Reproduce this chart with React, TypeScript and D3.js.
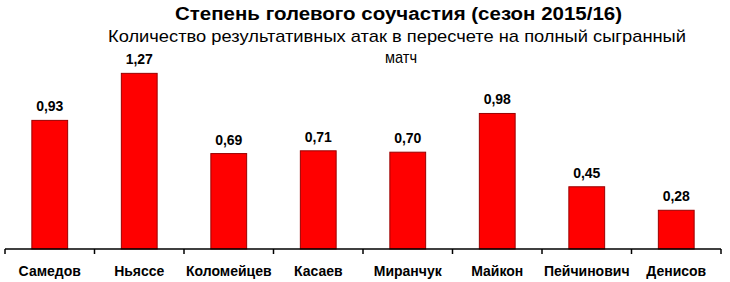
import React from "react";
import * as d3 from "d3";

const categories = ["Самедов", "Ньяссе", "Коломейцев", "Касаев", "Миранчук", "Майкон", "Пейчинович", "Денисов"];
const values = [0.93, 1.27, 0.69, 0.71, 0.70, 0.98, 0.45, 0.28];
const title = "Степень голевого соучастия (сезон 2015/16)";
const subtitle1 = "Количество результативных атак в пересчете на полный сыгранный";
const subtitle2 = "матч";

const W = 730, H = 282;
const font = "'Liberation Sans', Arial, sans-serif";

export default function App() {
  const x = d3.scaleBand<string>().domain(categories).range([5, 721]).paddingInner(0.6).paddingOuter(0.3);
  const baseline = 249;
  const y = d3.scaleLinear().domain([0, 1]).range([baseline, baseline - 138.3]);
  const ticks = d3.range(categories.length + 1).map((i) => 5 + i * (716 / categories.length));
  const fmt = (v: number) => v.toFixed(2).replace(".", ",");
  return (
    <svg width={W} height={H} style={{ position: "absolute", left: 0, top: 0, background: "#fff" }}>
      <rect width={W} height={H} fill="#fff" />
      <text x={398.5} y={20} textAnchor="middle" fontFamily={font} fontWeight="bold" fontSize={18} textLength={447} lengthAdjust="spacingAndGlyphs" fill="#000">{title}</text>
      <text x={397} y={42} textAnchor="middle" fontFamily={font} fontSize={17} textLength={578} lengthAdjust="spacingAndGlyphs" fill="#000">{subtitle1}</text>
      <text x={401} y={63} textAnchor="middle" fontFamily={font} fontSize={17} textLength={32} lengthAdjust="spacingAndGlyphs" fill="#000">{subtitle2}</text>
      {categories.map((c, i) => {
        const bx = x(c)!;
        const bw = x.bandwidth();
        const top = y(values[i]);
        return (
          <g key={c}>
            <rect x={bx} y={top} width={bw} height={baseline - top} fill="#ff0000" stroke="#9a0000" strokeWidth={1} />
            <text x={bx + bw / 2} y={top - 9} textAnchor="middle" fontFamily={font} fontWeight="bold" fontSize={14} fill="#000">{fmt(values[i])}</text>
            <text x={bx + bw / 2} y={276} textAnchor="middle" fontFamily={font} fontWeight="bold" fontSize={14} fill="#000">{c}</text>
          </g>
        );
      })}
      <line x1={5} x2={721} y1={baseline} y2={baseline} stroke="#000" strokeWidth={1.5} />
      {ticks.map((t, i) => (
        <line key={i} x1={t} x2={t} y1={baseline} y2={baseline + 5} stroke="#000" strokeWidth={1.5} />
      ))}
    </svg>
  );
}
